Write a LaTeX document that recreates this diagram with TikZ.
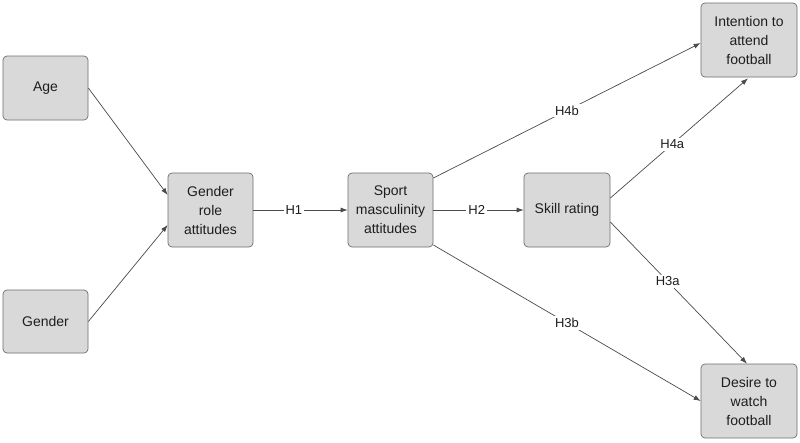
\documentclass[tikz,border=0pt]{standalone}
\usepackage{fontspec}
\setmainfont{Liberation Sans}
\usetikzlibrary{arrows.meta,calc}
\definecolor{boxfill}{HTML}{D9D9D9}
\definecolor{boxline}{HTML}{6E6E6E}
\definecolor{edgecol}{HTML}{4A4A4A}
\definecolor{txt}{HTML}{1E1E1E}
\begin{document}
\begin{tikzpicture}[x=1pt,y=-1pt,
  box/.style={draw=boxline,fill=boxfill,rounded corners=4pt,line width=0.7pt,
    align=center,text=txt,font=\fontsize{14}{19}\selectfont,inner sep=0pt},
  conn/.style={draw=edgecol,line width=0.7pt,-{Latex[length=7pt,width=5pt]}},
  lab/.style={fill=white,text=txt,font=\fontsize{13}{15}\selectfont,inner sep=2pt}]
\useasboundingbox[fill=white] (0,0) rectangle (800,442);
\node[box,minimum width=85pt,minimum height=64pt] (age) at (45.5,88) {Age};
\node[box,minimum width=85pt,minimum height=63pt] (gen) at (45.5,321.5) {Gender};
\node[box,minimum width=85pt,minimum height=74pt] (gra) at (210.5,210) {Gender\\role\\attitudes};
\node[box,minimum width=85pt,minimum height=74pt] (sma) at (390.5,210) {Sport\\masculinity\\attitudes};
\node[box,minimum width=86pt,minimum height=74pt] (skr) at (567,210) {Skill rating};
\node[box,minimum width=96pt,minimum height=74pt] (ita) at (749,40) {Intention to\\attend\\football};
\node[box,minimum width=96pt,minimum height=74pt] (dwf) at (749,401) {Desire to\\watch\\football};

\draw[conn] (age.east) -- ($(gra.west)+(0,-15)$);
\draw[conn] (gen.east) -- ($(gra.west)+(0,15)$);
\draw[conn] (gra.east) -- node[lab,pos=0.43] (h1) {H1} (sma.west);
\draw[conn] (sma.east) -- node[lab,pos=0.48] (h2) {H2} (skr.west);
\draw[conn] ($(sma.east)+(0,-32)$) -- node[lab] (h4b) {H4b} ($(ita.west)+(0,3)$);
\draw[conn] ($(skr.east)+(0,-12)$) -- node[lab,pos=0.45] (h4a) {H4a} ($(ita.south)+(-1,1)$);
\draw[conn] ($(skr.east)+(0,12)$) -- node[lab,pos=0.42] (h3a) {H3a} ($(dwf.north)+(-2,0)$);
\draw[conn] ($(sma.east)+(0,35)$) -- node[lab] (h3b) {H3b} (dwf.west);
\end{tikzpicture}
\end{document}
